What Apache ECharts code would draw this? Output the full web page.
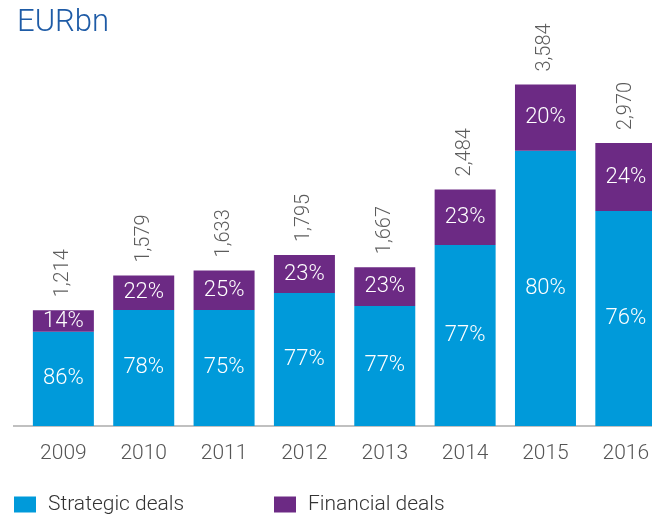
<!DOCTYPE html>
<html>
<head>
<meta charset="utf-8">
<script src="https://cdn.jsdelivr.net/npm/echarts@6/dist/echarts.min.js"></script>
<style>html,body{margin:0;padding:0;background:#fff;overflow:hidden}#c{width:666px;height:515px}</style>
</head>
<body>
<div id="c"></div>
<script>
var years = ['2009','2010','2011','2012','2013','2014','2015','2016'];
var totals = [1214, 1579, 1633, 1795, 1667, 2484, 3584, 2970];
var strategic = [990, 1218, 1218, 1396, 1260, 1900, 2890, 2257];
var financial = [224, 361, 415, 399, 407, 584, 694, 713];
var strategicPct = ['86%','78%','75%','77%','77%','77%','80%','76%'];
var financialPct = ['14%','22%','25%','23%','23%','23%','20%','24%'];

var FONT = 'Roboto';
var BLUE = '#009ADA', PURPLE = '#6C2A84';

var chart = echarts.init(document.getElementById('c'), null, {renderer: 'canvas'});
var legendText = {fontFamily: FONT, fontWeight: 300, fontSize: 21, color: '#333', padding: [0,0,0,7]};
chart.setOption({
  animation: false,
  backgroundColor: '#fff',
  title: {
    text: 'EURbn', left: 12, top: 3,
    textStyle: {color: '#1E5BA6', fontFamily: FONT, fontWeight: 300, fontSize: 31}
  },
  legend: [
    {data: ['Strategic deals'], left: 14, top: 494, padding: 0, icon: 'rect', itemWidth: 22, itemHeight: 16, itemGap: 0, textStyle: legendText},
    {data: ['Financial deals'], left: 274, top: 494, padding: 0, icon: 'rect', itemWidth: 22, itemHeight: 16, itemGap: 0, textStyle: legendText}
  ],
  grid: {left: 23.2, top: 45, right: 0, bottom: 89, containLabel: false},
  xAxis: {
    type: 'category', data: years,
    axisLine: {show: true, lineStyle: {color: '#c0c0c0', width: 2}},
    axisTick: {show: false},
    axisLabel: {fontFamily: FONT, fontWeight: 300, fontSize: 21, color: '#555', margin: 17}
  },
  yAxis: {type: 'value', min: 0, max: 4000, show: false, splitLine: {show: false}},
  graphic: [{type: 'line', shape: {x1: 13, y1: 426, x2: 24, y2: 426}, style: {stroke: '#c0c0c0', lineWidth: 2}}],
  series: [
    {name: 'Strategic deals', type: 'bar', stack: 'a', data: strategic, barWidth: 61,
     itemStyle: {color: BLUE},
     label: {show: true, position: 'inside', formatter: function(p){return strategicPct[p.dataIndex];},
             fontFamily: FONT, fontWeight: 300, fontSize: 22, color: '#fff'}},
    {name: 'Financial deals', type: 'bar', stack: 'a', data: financial, barWidth: 61,
     itemStyle: {color: PURPLE},
     label: {show: true, position: 'inside', formatter: function(p){return financialPct[p.dataIndex];},
             fontFamily: FONT, fontWeight: 300, fontSize: 22, color: '#fff'}},
    {name: 'Total', type: 'scatter', data: totals, symbolSize: 0, silent: true,
     label: {show: true, position: 'top', distance: 13, rotate: 90, align: 'left', verticalAlign: 'middle',
             formatter: function(p){return totals[p.dataIndex].toLocaleString('en-US');},
             fontFamily: FONT, fontWeight: 300, fontSize: 20, color: '#333'}}
  ]
});
</script>
</body>
</html>
